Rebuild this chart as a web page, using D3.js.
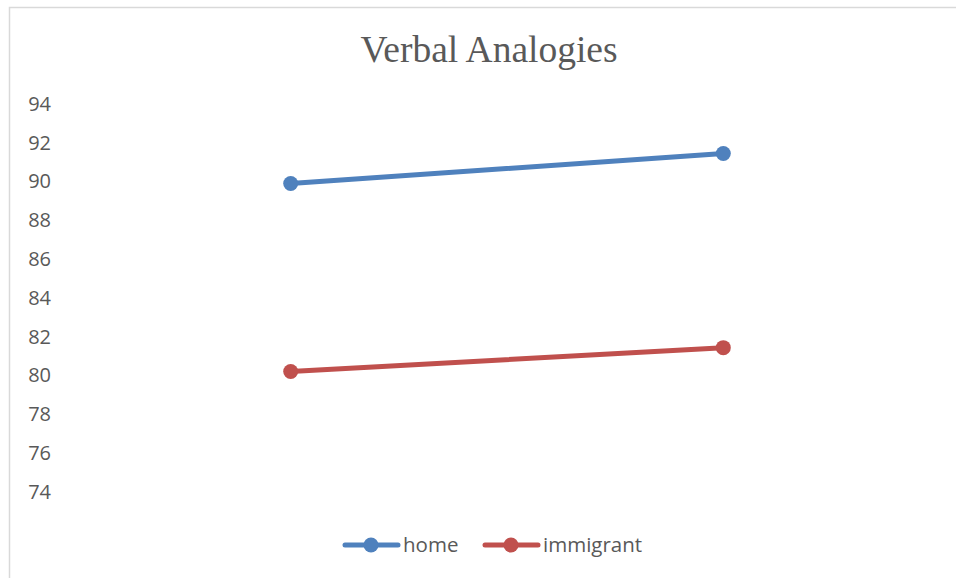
<!DOCTYPE html>
<html>
<head>
<meta charset="utf-8">
<script src="https://cdn.jsdelivr.net/npm/d3@7"></script>
<style>
  body { margin: 0; background: #fff; }
</style>
</head>
<body>
<div id="chart"></div>
<script>
var categories = ['1', '2'];
var home = [89.9, 91.45];
var immigrant = [80.2, 81.43];
var yTicks = [74, 76, 78, 80, 82, 84, 86, 88, 90, 92, 94];
var seriesNames = ['home', 'immigrant'];
var colors = ['#4F81BD', '#C0504D'];

var width = 956, height = 578;
var svg = d3.select('#chart').append('svg')
  .attr('width', width).attr('height', height);

// chart border (runs off the right/bottom edge like the original)
svg.append('rect')
  .attr('x', 9.5).attr('y', 7.5)
  .attr('width', 980).attr('height', 600)
  .style('fill', '#fff').style('stroke', '#d9d9d9').style('stroke-width', 1.5);

svg.append('text')
  .attr('x', 489).attr('y', 62)
  .attr('text-anchor', 'middle')
  .style('font-family', '"Liberation Serif", "Times New Roman", serif')
  .style('font-size', '37.5px')
  .style('fill', '#595959')
  .text('Verbal Analogies');

var x = d3.scaleBand().domain(categories).range([74.4, 939.6]);
var y = d3.scaleLinear().domain([74, 94]).range([491.7, 104]);

var yAxis = svg.append('g')
  .attr('transform', 'translate(51,0)')
  .call(d3.axisLeft(y).tickValues(yTicks).tickSize(0).tickPadding(0).tickFormat(d3.format('d')));
yAxis.select('.domain').remove();
yAxis.selectAll('text')
  .style('font-family', '"Open Sans", sans-serif')
  .style('font-size', '20px')
  .style('fill', '#595959');

var line = d3.line()
  .x(function(d, i){ return x(categories[i]) + x.bandwidth() / 2; })
  .y(function(d){ return y(d); });

[home, immigrant].forEach(function(vals, s){
  svg.append('path')
    .datum(vals)
    .attr('d', line)
    .style('fill', 'none')
    .style('stroke', colors[s])
    .style('stroke-width', 5)
    .style('stroke-linecap', 'round');
  svg.selectAll('.pt' + s)
    .data(vals).enter().append('circle')
    .attr('cx', function(d, i){ return x(categories[i]) + x.bandwidth() / 2; })
    .attr('cy', function(d){ return y(d); })
    .attr('r', 7.5)
    .style('fill', colors[s]);
});

// legend
var legendX = [343, 483];
var legend = svg.selectAll('.legend')
  .data(seriesNames).enter().append('g')
  .attr('transform', function(d, i){ return 'translate(' + legendX[i] + ',545)'; });
legend.append('line')
  .attr('x1', 2).attr('x2', 55)
  .style('stroke', function(d, i){ return colors[i]; })
  .style('stroke-width', 5)
  .style('stroke-linecap', 'round');
legend.append('circle')
  .attr('cx', 28).attr('r', 7.5)
  .style('fill', function(d, i){ return colors[i]; });
legend.append('text')
  .attr('x', 60).attr('dy', '0.35em')
  .style('font-family', '"Open Sans", sans-serif')
  .style('font-size', '20.5px')
  .style('fill', '#595959')
  .text(function(d){ return d; });
</script>
</body>
</html>
